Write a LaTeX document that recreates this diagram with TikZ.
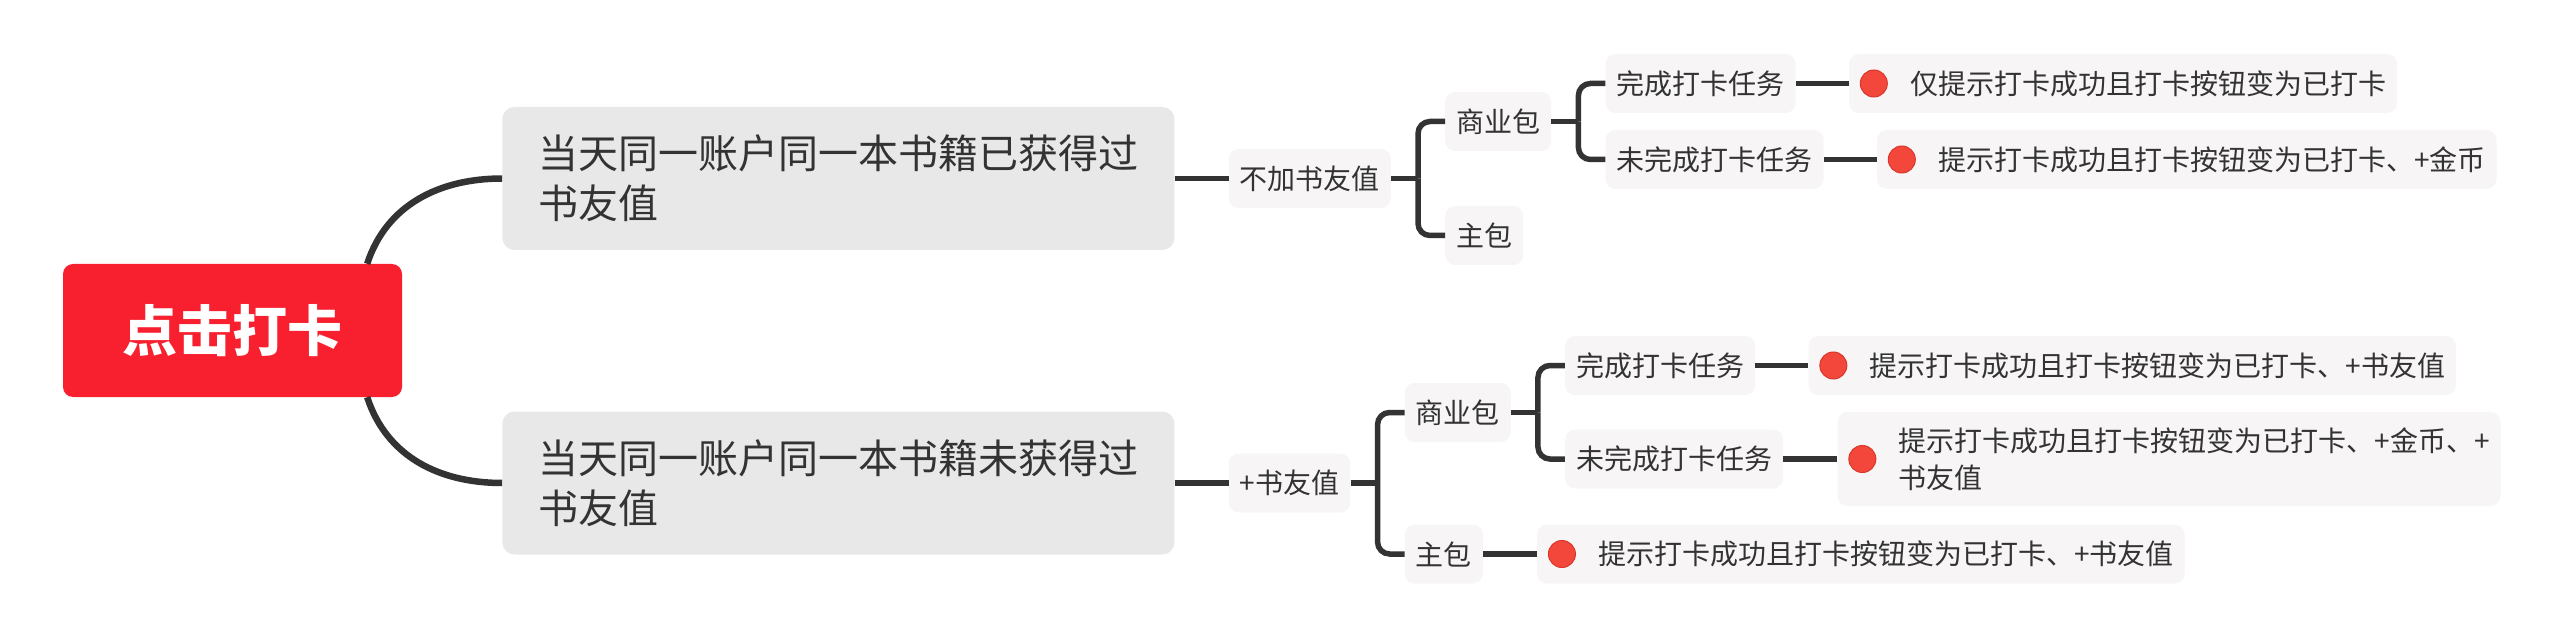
\documentclass[tikz,border=0pt]{standalone}
\usepackage{fontspec}
\setmainfont{Noto Sans CJK SC}
\usepackage{xcolor}
\usepackage{tikz}
\usetikzlibrary{positioning}

\definecolor{rootred}{HTML}{F8202F}
\definecolor{greybox}{HTML}{E8E8E8}
\definecolor{tagbg}{HTML}{F7F5F5}
\definecolor{ink}{HTML}{333333}
\definecolor{dotred}{HTML}{F4473C}
\definecolor{dotrim}{HTML}{D9362C}

\begin{document}
\begin{tikzpicture}[x = 1pt, y = 1pt, node distance = 54pt]
            \tikzstyle{topic} = [rectangle, rounded corners = 10pt, fill = rootred, text = white, minimum width = 339pt, minimum height = 133pt, font = \fontsize{55pt}{66pt}\selectfont\bfseries];
            \tikzstyle{branch} = [rectangle, rounded corners = 12pt, fill = greybox, text = ink, text width = 600pt, align = left, inner xsep = 36pt, minimum height = 143pt, font = \fontsize{40pt}{50pt}\selectfont];
            \tikzstyle{tag} = [rectangle, rounded corners = 10pt, fill = tagbg, text = ink, inner xsep = 11pt, inner ysep = 0pt, minimum height = 59pt, font = \fontsize{28pt}{37pt}\selectfont];
            \tikzstyle{tip} = [tag, align = left];
            \tikzstyle{dot} = [circle, fill = dotred, draw = dotrim, line width = 1pt, minimum size = 27pt, inner sep = 0pt];
            \tikzstyle{trunk} = [draw = ink, line width = 6.5pt];
            \tikzstyle{link} = [draw = ink, line width = 5.5pt, rounded corners = 12pt];

            \useasboundingbox (0, 0) rectangle (2572, -644);

            \node [topic] (click) at (232.5, -330.5) {点击打卡};

            \node [branch, right = 100pt of click, yshift = 152pt] (got) {当天同一账户同一本书籍已获得过\\书友值};
            \node [branch, right = 100pt of click, yshift = -152.5pt] (notgot) {当天同一账户同一本书籍未获得过\\书友值};

            % already got it today
            \node [tag, right = of got] (noadd) {不加书友值};
            \node [tag, right = of noadd, yshift = 57pt] (bizA) {商业包};
            \node [tag, right = of noadd, yshift = -57pt] (mainA) {主包};
            \node [tag, right = of bizA, yshift = 38pt] (doneA) {完成打卡任务};
            \node [tag, right = of bizA, yshift = -38pt] (undoneA) {未完成打卡任务};
            \node [tip, right = 53pt of doneA] (tipA) {\hspace*{50pt}仅提示打卡成功且打卡按钮变为已打卡};
            \node [tip, right = 53pt of undoneA] (tipB) {\hspace*{50pt}提示打卡成功且打卡按钮变为已打卡、+金币};

            % not got it yet
            \node [tag, right = of notgot] (add) {+书友值};
            \node [tag, right = of add, yshift = 70.5pt] (bizB) {商业包};
            \node [tag, right = of add, yshift = -71pt] (mainB) {主包};
            \node [tag, right = of bizB, yshift = 47pt] (doneB) {完成打卡任务};
            \node [tag, right = of bizB, yshift = -46.5pt] (undoneB) {未完成打卡任务};
            \node [tip, right = 53pt of doneB] (tipC) {\hspace*{50pt}提示打卡成功且打卡按钮变为已打卡、+书友值};
            \node [tip, right = of undoneB, minimum height = 94pt] (tipD) {\hspace*{50pt}提示打卡成功且打卡按钮变为已打卡、+金币、+\\\hspace*{50pt}书友值};
            \node [tip, right = of mainB] (tipE) {\hspace*{50pt}提示打卡成功且打卡按钮变为已打卡、+书友值};

            \foreach \t in {A, B, C, D, E}
                \node [dot, right = 11pt of tip\t.west] (dot\t) {};

            \draw [trunk] ([xshift = -35pt] click.north east) to [out = 72, in = 180] (got.west);
            \draw [trunk] ([xshift = -35pt] click.south east) to [out = -72, in = 180] (notgot.west);

            \foreach \i/\j in {got/noadd, notgot/add, doneA/tipA, undoneA/tipB, doneB/tipC, undoneB/tipD, mainB/tipE}
                \draw [link] (\i.east) -- (\j.west);

            \foreach \p/\u/\d/\f in {noadd/bizA/mainA/forkA, bizA/doneA/undoneA/forkB, add/bizB/mainB/forkC, bizB/doneB/undoneB/forkD} {
                \draw [link] (\p.east) -- ++(27pt, 0) coordinate (\f);
                \draw [link] (\f) |- (\u.west);
                \draw [link] (\f) |- (\d.west);
            }
        \end{tikzpicture}
\end{document}
